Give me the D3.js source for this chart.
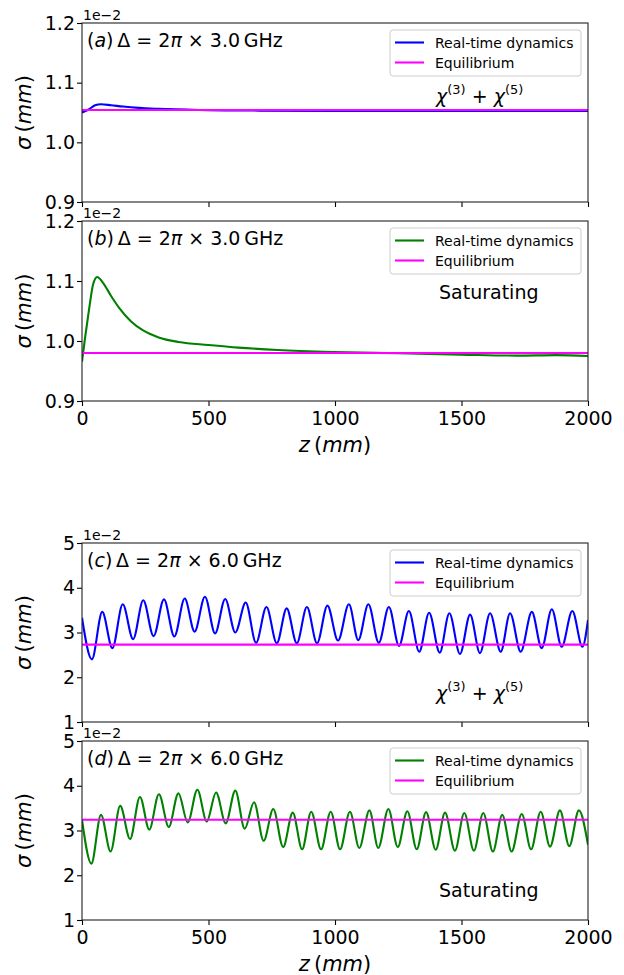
<!DOCTYPE html>
<html>
<head>
<meta charset="utf-8">
<script src="https://d3js.org/d3.v7.min.js"></script>
<style>
  body { margin: 0; background: #fff; }
  text { font-family: "DejaVu Sans", sans-serif; fill: #000; }
  .it { font-style: italic; }
</style>
</head>
<body>
<script>
// sizes
var w = 624, h = 975;
var left = 82, right = 588;

// x ticks (z in mm), shared
var zTicks = [0, 500, 1000, 1500, 2000];
var yTicksAB = [0.9, 1.0, 1.1, 1.2];
var yTicksCD = [1, 2, 3, 4, 5];
var legendLabels = ["Real-time dynamics", "Equilibrium"];

// panel (a) chi3+chi5, 3.0 GHz  (sigma in units of 1e-2 mm)
var zA = [0, 28, 52, 75, 115, 162, 225, 303, 461, 700, 1000, 1500, 2000];
var sigA = [1.050, 1.0555, 1.0622, 1.0638, 1.0622, 1.060, 1.0578, 1.0562, 1.0543, 1.0532, 1.0527, 1.0525, 1.0525];
var eqA = 1.0543;

// panel (b) saturating, 3.0 GHz
var zB = [0, 12, 28, 44, 60, 83, 115, 146, 193, 240, 303, 382, 500, 618, 775, 995, 1247, 1498, 1718, 1875, 2000];
var sigB = [0.9657, 1.005, 1.053, 1.0945, 1.1067, 1.097, 1.075, 1.0557, 1.0330, 1.0180, 1.0060, 0.9984, 0.9934, 0.989, 0.985, 0.9817, 0.9795, 0.9773, 0.9757, 0.9765, 0.975];
var eqB = 0.980;

// panel (c) chi3+chi5, 6.0 GHz
var zC = [0, 39, 80, 120, 161, 202, 242, 283, 324, 365, 406, 445, 486, 526, 566, 606, 647, 688, 729, 770,
          809, 849, 889, 929, 970, 1012, 1055, 1092, 1132, 1173, 1213, 1253, 1292, 1333, 1372, 1414, 1452, 1494, 1534, 1573,
          1613, 1655, 1692, 1734, 1778, 1817, 1857, 1896, 1938, 1978, 2000];
var sigC = [3.33, 2.40, 3.46, 2.65, 3.63, 2.85, 3.72, 2.92, 3.74, 2.91, 3.76, 3.02, 3.80, 2.98, 3.75, 3.00, 3.67, 2.77, 3.57, 2.76,
            3.54, 2.76, 3.57, 2.76, 3.60, 2.82, 3.63, 2.83, 3.63, 2.77, 3.57, 2.70, 3.48, 2.57, 3.44, 2.55, 3.43, 2.52, 3.40, 2.54,
            3.43, 2.57, 3.43, 2.57, 3.46, 2.65, 3.52, 2.68, 3.48, 2.68, 3.28];
var eqC = 2.73;

// panel (d) saturating, 6.0 GHz
var zD = [0, 37, 75, 113, 151, 190, 229, 266, 304, 343, 381, 418, 456, 493, 530, 568, 606, 643, 680, 718,
          756, 795, 833, 870, 906, 945, 983, 1020, 1059, 1096, 1136, 1171, 1211, 1248, 1286, 1323, 1360, 1398, 1435, 1474,
          1511, 1549, 1586, 1624, 1661, 1698, 1738, 1775, 1813, 1850, 1889, 1926, 1964, 2000];
var sigD = [3.24, 2.26, 3.35, 2.53, 3.55, 2.81, 3.75, 3.02, 3.81, 3.08, 3.83, 3.18, 3.91, 3.20, 3.85, 3.16, 3.89, 3.04, 3.63, 2.77,
            3.48, 2.63, 3.40, 2.58, 3.42, 2.58, 3.42, 2.58, 3.42, 2.61, 3.45, 2.61, 3.48, 2.63, 3.43, 2.58, 3.41, 2.57, 3.40, 2.55,
            3.39, 2.55, 3.39, 2.53, 3.35, 2.53, 3.37, 2.58, 3.42, 2.64, 3.45, 2.65, 3.45, 2.68];
var eqD = 3.24;

var svg = d3.select("body").append("svg")
  .attr("width", w).attr("height", h);

var xScale = d3.scaleLinear().domain([0, 2000]).range([left, right]);

function panel(p) {
  var g = svg.append("g");
  var yScale = d3.scaleLinear().domain(p.dom).range([p.bot, p.top]);

  var line = d3.line()
    .x(function (d) { return xScale(d[0]); })
    .y(function (d) { return yScale(d[1]); })
    .curve(d3.curveMonotoneX);

  var pts = p.z.map(function (z, i) { return [z, p.s[i]]; });

  var clipId = "clip" + p.name;
  svg.append("clipPath").attr("id", clipId).append("rect")
    .attr("x", left).attr("y", p.top).attr("width", right - left).attr("height", p.bot - p.top);

  // curves
  g.append("path").datum(pts)
    .attr("clip-path", "url(#" + clipId + ")")
    .attr("d", line).attr("fill", "none")
    .attr("stroke", p.color).attr("stroke-width", 2.1);
  g.append("path").datum([[0, p.eq], [2000, p.eq]])
    .attr("d", line).attr("fill", "none")
    .attr("stroke", "#ff00ff").attr("stroke-width", 2.1);

  // axes
  var xAxis = d3.axisBottom(xScale).tickValues(zTicks).tickSize(5).tickPadding(6)
    .tickFormat(p.xlabels ? d3.format("d") : "");
  var yAxis = d3.axisLeft(yScale).tickValues(p.ticks).tickSize(5).tickPadding(2)
    .tickFormat(p.fmt);

  var gx = g.append("g").attr("transform", "translate(0," + p.bot + ")").call(xAxis);
  var gy = g.append("g").attr("transform", "translate(" + left + ",0)").call(yAxis);
  [gx, gy].forEach(function (a) {
    a.select(".domain").remove();
    a.selectAll("line").attr("stroke", "#000").attr("stroke-width", 1.1);
    a.selectAll("text").attr("font-size", 19).attr("font-family", "DejaVu Sans");
  });

  // frame
  g.append("rect").attr("x", left).attr("y", p.top)
    .attr("width", right - left).attr("height", p.bot - p.top)
    .attr("fill", "none").attr("stroke", "#222").attr("stroke-width", 1.1);

  // offset text
  g.append("text").attr("x", 83).attr("y", p.top - 3).attr("font-size", 14).text("1e\u22122");

  // y label
  var yl = g.append("text")
    .attr("transform", "translate(31," + ((p.top + p.bot) / 2) + ") rotate(-90)")
    .attr("text-anchor", "middle").attr("font-size", 21);
  yl.append("tspan").attr("class", "it").text("\u03c3");
  yl.append("tspan").text("\u2009(");
  yl.append("tspan").attr("class", "it").text("mm");
  yl.append("tspan").text(")");

  // panel label
  var t = g.append("text").attr("x", 87).attr("y", p.top + 24).attr("font-size", 19);
  t.append("tspan").text("(");
  t.append("tspan").attr("class", "it").text(p.name);
  t.append("tspan").text(")\u2009\u0394 = 2");
  t.append("tspan").attr("class", "it").text("\u03c0");
  t.append("tspan").text(" \u00d7  " + p.ghz + "\u2009GHz");

  // model annotation
  if (p.note === "chi") {
    var c = g.append("text").attr("x", 436).attr("y", p.top + p.noteY).attr("font-size", 19);
    c.append("tspan").attr("class", "it").text("\u03c7");
    c.append("tspan").attr("font-size", 13).attr("dy", -9).text("(3)");
    c.append("tspan").attr("dy", 9).text(" + ");
    c.append("tspan").attr("class", "it").text("\u03c7");
    c.append("tspan").attr("font-size", 13).attr("dy", -9).text("(5)");
  } else {
    g.append("text").attr("x", 439).attr("y", p.top + p.noteY).attr("font-size", 19).text("Saturating");
  }

  // legend
  var lg = g.append("g").attr("transform", "translate(390," + (p.top + 7) + ")");
  lg.append("rect").attr("width", 191).attr("height", 46).attr("rx", 3)
    .attr("fill", "#fff").attr("fill-opacity", 0.8).attr("stroke", "#cccccc");
  [p.color, "#ff00ff"].forEach(function (col, i) {
    var yy = 12.5 + i * 20;
    lg.append("line").attr("x1", 5).attr("x2", 34).attr("y1", yy).attr("y2", yy)
      .attr("stroke", col).attr("stroke-width", 2.1);
    lg.append("text").attr("x", 45).attr("y", yy).attr("dy", "0.36em")
      .attr("font-size", 14).text(legendLabels[i]);
  });

  // x label
  if (p.xlabels) {
    var xl = g.append("text").attr("x", (left + right) / 2).attr("y", p.bot + 50.5)
      .attr("text-anchor", "middle").attr("font-size", 21);
    xl.append("tspan").attr("class", "it").text("z");
    xl.append("tspan").text("\u2009(");
    xl.append("tspan").attr("class", "it").text("mm");
    xl.append("tspan").text(")");
  }
}

var f1 = d3.format(".1f"), f0 = d3.format("d");

panel({ name: "a", top: 23, bot: 202, dom: [0.9, 1.2], ticks: yTicksAB, fmt: f1, z: zA, s: sigA, eq: eqA,
        color: "#0000ff", ghz: "3.0", note: "chi", noteY: 80, xlabels: false });
panel({ name: "b", top: 221, bot: 401, dom: [0.9, 1.2], ticks: yTicksAB, fmt: f1, z: zB, s: sigB, eq: eqB,
        color: "#008000", ghz: "3.0", note: "sat", noteY: 78, xlabels: true });
panel({ name: "c", top: 543, bot: 722, dom: [1, 5], ticks: yTicksCD, fmt: f0, z: zC, s: sigC, eq: eqC,
        color: "#0000ff", ghz: "6.0", note: "chi", noteY: 157, xlabels: false });
panel({ name: "d", top: 741, bot: 920, dom: [1, 5], ticks: yTicksCD, fmt: f0, z: zD, s: sigD, eq: eqD,
        color: "#008000", ghz: "6.0", note: "sat", noteY: 156, xlabels: true });
</script>
</body>
</html>
